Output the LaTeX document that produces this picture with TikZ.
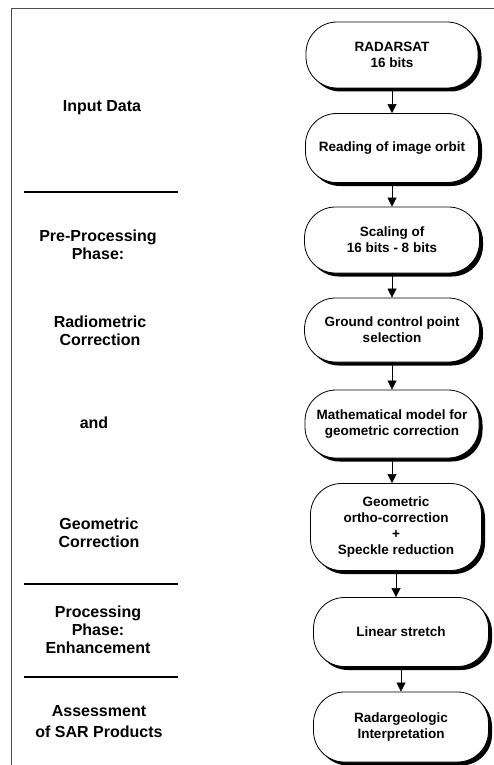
\documentclass[tikz,border=0pt]{standalone}
\usepackage{fontspec}
\setmainfont{Liberation Sans}
\usetikzlibrary{shadows,arrows.meta}
\begin{document}
\begin{tikzpicture}[x=1pt,y=-1pt,
  proc/.style={draw=black, line width=0.8pt, fill=white, rounded corners=31pt,
    align=center, font=\fontsize{13.5}{16}\selectfont\bfseries, inner sep=0pt,
    drop shadow={shadow xshift=3.5pt, shadow yshift=-3.5pt, fill=black, opacity=1}},
  lab/.style={align=center, font=\fontsize{16}{18}\selectfont\bfseries},
  sep/.style={line width=2.5pt},
  frame/.style={line width=1pt, black!70},
  arr/.style={line width=0.6pt, -{Triangle[width=9pt,length=9pt]}}]
\useasboundingbox (0,0) rectangle (494,765);
\draw[frame] (11,765) -- (11,9) -- (494,9);

% separators
\draw[sep] (24,192) -- (178,192);
\draw[sep] (24,584) -- (178,584);
\draw[sep] (24,677) -- (178,677);

% left labels
\node[lab] (l1) at (102,108) {Input Data};
\node[lab] (l2) at (98,245) {Pre-Processing\\Phase:};
\node[lab] (l3) at (100,331) {Radiometric\\Correction};
\node[lab] (l4) at (94,423) {and};
\node[lab] (l5) at (99,533) {Geometric\\Correction};
\node[lab] (l6) at (98,630) {Processing\\Phase:\\Enhancement};
\node[lab] (l7) at (99,722) {Assessment\\[3pt]of SAR Products};

% process boxes
\node[proc, minimum width=172pt, minimum height=66pt] (b1) at (392,55) {RADARSAT\\16 bits};
\node[proc, minimum width=173pt, minimum height=69pt] (b2) at (392,148) {Reading of image orbit};
\node[proc, minimum width=175pt, minimum height=66pt] (b3) at (392,240) {Scaling of\\16 bits - 8 bits};
\node[proc, minimum width=175pt, minimum height=64pt] (b4) at (392,330) {Ground control point\\selection};
\node[proc, minimum width=174pt, minimum height=68pt] (b5) at (392,424) {Mathematical model for\\geometric correction};
\node[proc, minimum width=171pt, minimum height=87pt] (b6) at (396,527) {Geometric\\ortho-correction\\+\\Speckle reduction};
\node[proc, minimum width=175pt, minimum height=69pt] (b7) at (401,632) {Linear stretch};
\node[proc, minimum width=175pt, minimum height=70pt] (b8) at (401,727) {Radargeologic\\Interpretation};

% arrows
\draw[arr] (b1.south) -- (b1.south |- b2.north);
\draw[arr] (b2.south) -- (b2.south |- b3.north);
\draw[arr] (b3.south) -- (b3.south |- b4.north);
\draw[arr] (b4.south) -- (b4.south |- b5.north);
\draw[arr] (b5.south) -- (b5.south |- b6.north);
\draw[arr] (b6.south) -- (b6.south |- b7.north);
\draw[arr] (b7.south) -- (b7.south |- b8.north);
\end{tikzpicture}
\end{document}
